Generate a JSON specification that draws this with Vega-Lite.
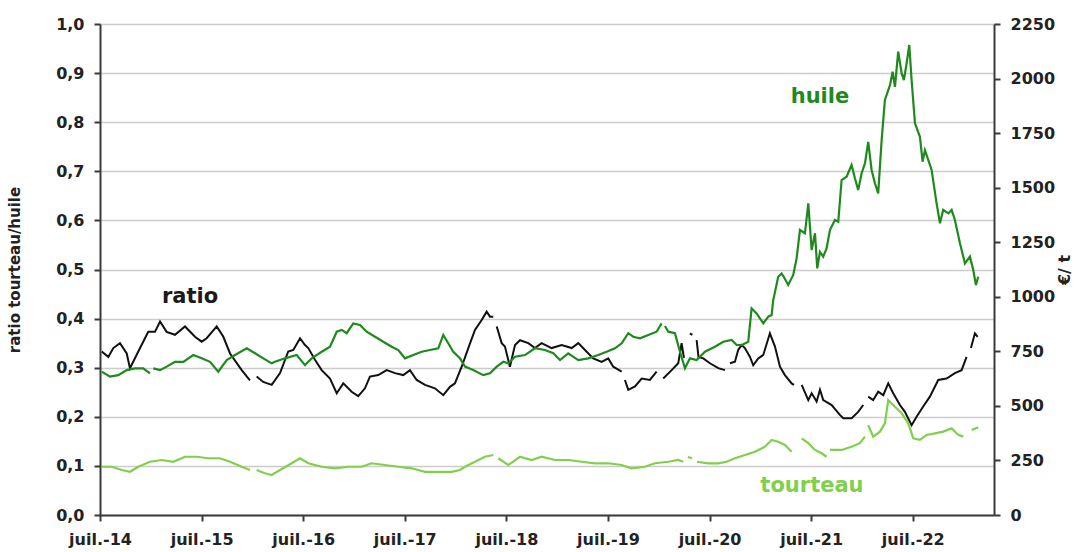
{
  "$schema": "https://vega.github.io/schema/vega-lite/v6.json",
  "width": 894,
  "height": 491,
  "autosize": {"type": "none"},
  "padding": {"left": 100, "top": 24, "right": 88, "bottom": 37},
  "background": "white",
  "config": {
    "view": {"stroke": null},
    "font": "DejaVu Sans",
    "axis": {
      "labelFont": "DejaVu Sans",
      "labelFontSize": 16,
      "labelFontWeight": "bold",
      "labelColor": "#222222",
      "titleFont": "DejaVu Sans",
      "titleFontWeight": "bold",
      "titleColor": "#222222",
      "domainColor": "#3a3a3a",
      "domainWidth": 2,
      "tickColor": "#3a3a3a",
      "tickWidth": 2,
      "tickSize": 6
    }
  },
  "datasets": {
    "ratio": [
      {"t":2014.517,"v":0.333},{"t":2014.582,"v":0.322},{"t":2014.631,"v":0.340},{"t":2014.697,"v":0.350},{"t":2014.763,"v":0.329},{"t":2014.795,"v":0.299},{"t":2014.877,"v":0.333},{"t":2014.975,"v":0.373},{"t":2015.041,"v":0.373},{"t":2015.091,"v":0.394},{"t":2015.156,"v":0.373},{"t":2015.238,"v":0.367},{"t":2015.337,"v":0.384},{"t":2015.435,"v":0.363},{"t":2015.501,"v":0.353},{"t":2015.550,"v":0.360},{"t":2015.649,"v":0.384},{"t":2015.714,"v":0.363},{"t":2015.780,"v":0.329},{"t":2015.895,"v":0.295},{"t":2015.976,"v":0.274},{"t":2016.000,"v":null},
      {"t":2016.042,"v":0.282},{"t":2016.107,"v":0.271},{"t":2016.190,"v":0.265},{"t":2016.272,"v":0.289},{"t":2016.353,"v":0.333},{"t":2016.403,"v":0.336},{"t":2016.469,"v":0.360},{"t":2016.518,"v":0.346},{"t":2016.550,"v":0.340},{"t":2016.616,"v":0.316},{"t":2016.682,"v":0.295},{"t":2016.764,"v":0.278},{"t":2016.830,"v":0.248},{"t":2016.895,"v":0.268},{"t":2016.977,"v":0.251},{"t":2017.042,"v":0.242},{"t":2017.108,"v":0.258},{"t":2017.157,"v":0.282},{"t":2017.239,"v":0.285},{"t":2017.322,"v":0.295},{"t":2017.404,"v":0.289},{"t":2017.485,"v":0.285},{"t":2017.551,"v":0.295},{"t":2017.617,"v":0.275},{"t":2017.699,"v":0.265},{"t":2017.797,"v":0.258},{"t":2017.879,"v":0.244},{"t":2017.945,"v":0.261},{"t":2017.994,"v":0.268},{"t":2018.060,"v":0.302},{"t":2018.143,"v":0.350},{"t":2018.191,"v":0.377},{"t":2018.257,"v":0.397},{"t":2018.306,"v":0.414},{"t":2018.339,"v":0.404},{"t":2018.371,"v":0.404},{"t":2018.388,"v":null},
      {"t":2018.405,"v":0.384},{"t":2018.454,"v":0.350},{"t":2018.486,"v":0.343},{"t":2018.535,"v":0.302},{"t":2018.585,"v":0.346},{"t":2018.634,"v":0.356},{"t":2018.716,"v":0.350},{"t":2018.781,"v":0.340},{"t":2018.847,"v":0.350},{"t":2018.946,"v":0.340},{"t":2019.044,"v":0.346},{"t":2019.143,"v":0.340},{"t":2019.208,"v":0.350},{"t":2019.274,"v":0.336},{"t":2019.355,"v":0.319},{"t":2019.438,"v":0.312},{"t":2019.503,"v":0.319},{"t":2019.552,"v":0.302},{"t":2019.635,"v":0.292},{"t":2019.651,"v":null},
      {"t":2019.667,"v":0.275},{"t":2019.700,"v":0.255},{"t":2019.766,"v":0.262},{"t":2019.832,"v":0.278},{"t":2019.913,"v":0.275},{"t":2019.979,"v":0.292},{"t":2019.995,"v":null},
      {"t":2020.044,"v":0.278},{"t":2020.127,"v":0.295},{"t":2020.192,"v":0.309},{"t":2020.225,"v":0.350},{"t":2020.248,"v":0.320},{"t":2020.265,"v":null},
      {"t":2020.307,"v":0.370},{"t":2020.331,"v":0.367},{"t":2020.350,"v":null},
      {"t":2020.373,"v":0.356},{"t":2020.391,"v":0.322},{"t":2020.438,"v":0.319},{"t":2020.504,"v":0.309},{"t":2020.586,"v":0.299},{"t":2020.652,"v":0.295},{"t":2020.668,"v":null},
      {"t":2020.701,"v":0.309},{"t":2020.750,"v":0.312},{"t":2020.782,"v":0.336},{"t":2020.816,"v":0.346},{"t":2020.848,"v":0.340},{"t":2020.898,"v":0.322},{"t":2020.930,"v":0.305},{"t":2020.979,"v":0.319},{"t":2021.029,"v":0.326},{"t":2021.094,"v":0.370},{"t":2021.144,"v":0.343},{"t":2021.193,"v":0.302},{"t":2021.242,"v":0.285},{"t":2021.308,"v":0.268},{"t":2021.331,"v":0.265},{"t":2021.360,"v":null},
      {"t":2021.407,"v":0.265},{"t":2021.472,"v":0.234},{"t":2021.505,"v":0.248},{"t":2021.554,"v":0.231},{"t":2021.587,"v":0.255},{"t":2021.619,"v":0.234},{"t":2021.702,"v":0.224},{"t":2021.783,"v":0.204},{"t":2021.816,"v":0.197},{"t":2021.899,"v":0.197},{"t":2021.963,"v":0.210},{"t":2022.013,"v":0.224},{"t":2022.035,"v":null},
      {"t":2022.062,"v":0.241},{"t":2022.111,"v":0.234},{"t":2022.160,"v":0.251},{"t":2022.210,"v":0.244},{"t":2022.259,"v":0.268},{"t":2022.308,"v":0.248},{"t":2022.374,"v":0.224},{"t":2022.423,"v":0.210},{"t":2022.489,"v":0.183},{"t":2022.538,"v":0.200},{"t":2022.603,"v":0.221},{"t":2022.669,"v":0.241},{"t":2022.751,"v":0.275},{"t":2022.833,"v":0.278},{"t":2022.915,"v":0.289},{"t":2022.981,"v":0.295},{"t":2023.030,"v":0.322},{"t":2023.050,"v":null},
      {"t":2023.073,"v":0.340},{"t":2023.112,"v":0.370},{"t":2023.139,"v":0.363}
    ],
    "prix": [
      {"s":"huile","t":2014.517,"v":657},{"s":"huile","t":2014.598,"v":634},{"s":"huile","t":2014.680,"v":641},{"s":"huile","t":2014.763,"v":664},{"s":"huile","t":2014.844,"v":672},{"s":"huile","t":2014.926,"v":672},{"s":"huile","t":2014.992,"v":649},{"s":"huile","t":2015.008,"v":null},
      {"s":"huile","t":2015.025,"v":672},{"s":"huile","t":2015.091,"v":664},{"s":"huile","t":2015.156,"v":680},{"s":"huile","t":2015.238,"v":702},{"s":"huile","t":2015.320,"v":702},{"s":"huile","t":2015.418,"v":733},{"s":"huile","t":2015.501,"v":718},{"s":"huile","t":2015.583,"v":702},{"s":"huile","t":2015.664,"v":657},{"s":"huile","t":2015.747,"v":710},{"s":"huile","t":2015.829,"v":733},{"s":"huile","t":2015.944,"v":764},{"s":"huile","t":2016.026,"v":741},{"s":"huile","t":2016.107,"v":718},{"s":"huile","t":2016.190,"v":695},{"s":"huile","t":2016.222,"v":702},{"s":"huile","t":2016.321,"v":718},{"s":"huile","t":2016.436,"v":733},{"s":"huile","t":2016.518,"v":687},{"s":"huile","t":2016.584,"v":718},{"s":"huile","t":2016.682,"v":748},{"s":"huile","t":2016.764,"v":771},{"s":"huile","t":2016.830,"v":840},{"s":"huile","t":2016.879,"v":848},{"s":"huile","t":2016.928,"v":833},{"s":"huile","t":2016.993,"v":878},{"s":"huile","t":2017.059,"v":871},{"s":"huile","t":2017.125,"v":840},{"s":"huile","t":2017.207,"v":817},{"s":"huile","t":2017.288,"v":794},{"s":"huile","t":2017.371,"v":771},{"s":"huile","t":2017.436,"v":756},{"s":"huile","t":2017.502,"v":718},{"s":"huile","t":2017.584,"v":733},{"s":"huile","t":2017.666,"v":748},{"s":"huile","t":2017.748,"v":756},{"s":"huile","t":2017.830,"v":764},{"s":"huile","t":2017.879,"v":825},{"s":"huile","t":2017.928,"v":787},{"s":"huile","t":2017.977,"v":748},{"s":"huile","t":2018.043,"v":718},{"s":"huile","t":2018.093,"v":680},{"s":"huile","t":2018.174,"v":664},{"s":"huile","t":2018.273,"v":641},{"s":"huile","t":2018.339,"v":649},{"s":"huile","t":2018.405,"v":680},{"s":"huile","t":2018.470,"v":702},{"s":"huile","t":2018.519,"v":695},{"s":"huile","t":2018.585,"v":725},{"s":"huile","t":2018.683,"v":733},{"s":"huile","t":2018.781,"v":764},{"s":"huile","t":2018.880,"v":756},{"s":"huile","t":2018.962,"v":741},{"s":"huile","t":2019.028,"v":710},{"s":"huile","t":2019.109,"v":741},{"s":"huile","t":2019.208,"v":710},{"s":"huile","t":2019.306,"v":718},{"s":"huile","t":2019.404,"v":733},{"s":"huile","t":2019.487,"v":748},{"s":"huile","t":2019.569,"v":764},{"s":"huile","t":2019.635,"v":787},{"s":"huile","t":2019.700,"v":833},{"s":"huile","t":2019.749,"v":817},{"s":"huile","t":2019.815,"v":810},{"s":"huile","t":2019.897,"v":825},{"s":"huile","t":2019.979,"v":840},{"s":"huile","t":2020.028,"v":878},{"s":"huile","t":2020.044,"v":null},
      {"s":"huile","t":2020.061,"v":866},{"s":"huile","t":2020.094,"v":840},{"s":"huile","t":2020.159,"v":833},{"s":"huile","t":2020.209,"v":748},{"s":"huile","t":2020.258,"v":672},{"s":"huile","t":2020.307,"v":718},{"s":"huile","t":2020.373,"v":710},{"s":"huile","t":2020.455,"v":748},{"s":"huile","t":2020.553,"v":771},{"s":"huile","t":2020.635,"v":794},{"s":"huile","t":2020.718,"v":802},{"s":"huile","t":2020.767,"v":779},{"s":"huile","t":2020.819,"v":779},{"s":"huile","t":2020.881,"v":794},{"s":"huile","t":2020.914,"v":947},{"s":"huile","t":2020.963,"v":924},{"s":"huile","t":2021.029,"v":878},{"s":"huile","t":2021.078,"v":909},{"s":"huile","t":2021.111,"v":916},{"s":"huile","t":2021.127,"v":985},{"s":"huile","t":2021.176,"v":1092},{"s":"huile","t":2021.209,"v":1107},{"s":"huile","t":2021.237,"v":1086},{"s":"huile","t":2021.274,"v":1054},{"s":"huile","t":2021.324,"v":1100},{"s":"huile","t":2021.357,"v":1176},{"s":"huile","t":2021.390,"v":1306},{"s":"huile","t":2021.439,"v":1291},{"s":"huile","t":2021.472,"v":1428},{"s":"huile","t":2021.505,"v":1214},{"s":"huile","t":2021.538,"v":1291},{"s":"huile","t":2021.560,"v":1130},{"s":"huile","t":2021.587,"v":1206},{"s":"huile","t":2021.619,"v":1184},{"s":"huile","t":2021.652,"v":1222},{"s":"huile","t":2021.685,"v":1306},{"s":"huile","t":2021.734,"v":1352},{"s":"huile","t":2021.767,"v":1344},{"s":"huile","t":2021.800,"v":1535},{"s":"huile","t":2021.849,"v":1550},{"s":"huile","t":2021.898,"v":1604},{"s":"huile","t":2021.931,"v":1543},{"s":"huile","t":2021.963,"v":1489},{"s":"huile","t":2021.997,"v":1566},{"s":"huile","t":2022.030,"v":1612},{"s":"huile","t":2022.062,"v":1710},{"s":"huile","t":2022.095,"v":1581},{"s":"huile","t":2022.128,"v":1520},{"s":"huile","t":2022.160,"v":1474},{"s":"huile","t":2022.194,"v":1718},{"s":"huile","t":2022.226,"v":1902},{"s":"huile","t":2022.276,"v":1970},{"s":"huile","t":2022.302,"v":2031},{"s":"huile","t":2022.325,"v":1962},{"s":"huile","t":2022.357,"v":2123},{"s":"huile","t":2022.391,"v":2024},{"s":"huile","t":2022.413,"v":1993},{"s":"huile","t":2022.440,"v":2070},{"s":"huile","t":2022.466,"v":2154},{"s":"huile","t":2022.489,"v":1993},{"s":"huile","t":2022.522,"v":1795},{"s":"huile","t":2022.571,"v":1733},{"s":"huile","t":2022.597,"v":1619},{"s":"huile","t":2022.620,"v":1672},{"s":"huile","t":2022.653,"v":1627},{"s":"huile","t":2022.686,"v":1581},{"s":"huile","t":2022.735,"v":1428},{"s":"huile","t":2022.768,"v":1337},{"s":"huile","t":2022.800,"v":1398},{"s":"huile","t":2022.850,"v":1382},{"s":"huile","t":2022.883,"v":1398},{"s":"huile","t":2022.915,"v":1352},{"s":"huile","t":2022.965,"v":1245},{"s":"huile","t":2023.014,"v":1153},{"s":"huile","t":2023.063,"v":1184},{"s":"huile","t":2023.096,"v":1123},{"s":"huile","t":2023.122,"v":1054},{"s":"huile","t":2023.145,"v":1092},
      {"s":"tourteau","t":2014.517,"v":221},{"s":"tourteau","t":2014.615,"v":221},{"s":"tourteau","t":2014.714,"v":206},{"s":"tourteau","t":2014.795,"v":198},{"s":"tourteau","t":2014.877,"v":221},{"s":"tourteau","t":2014.992,"v":244},{"s":"tourteau","t":2015.107,"v":252},{"s":"tourteau","t":2015.221,"v":244},{"s":"tourteau","t":2015.337,"v":267},{"s":"tourteau","t":2015.452,"v":267},{"s":"tourteau","t":2015.566,"v":260},{"s":"tourteau","t":2015.681,"v":260},{"s":"tourteau","t":2015.780,"v":244},{"s":"tourteau","t":2015.895,"v":221},{"s":"tourteau","t":2015.976,"v":206},{"s":"tourteau","t":2016.000,"v":null},
      {"s":"tourteau","t":2016.042,"v":206},{"s":"tourteau","t":2016.124,"v":191},{"s":"tourteau","t":2016.190,"v":183},{"s":"tourteau","t":2016.272,"v":206},{"s":"tourteau","t":2016.387,"v":237},{"s":"tourteau","t":2016.469,"v":260},{"s":"tourteau","t":2016.550,"v":237},{"s":"tourteau","t":2016.682,"v":221},{"s":"tourteau","t":2016.813,"v":214},{"s":"tourteau","t":2016.944,"v":221},{"s":"tourteau","t":2017.076,"v":221},{"s":"tourteau","t":2017.174,"v":237},{"s":"tourteau","t":2017.305,"v":229},{"s":"tourteau","t":2017.436,"v":221},{"s":"tourteau","t":2017.568,"v":214},{"s":"tourteau","t":2017.699,"v":198},{"s":"tourteau","t":2017.830,"v":198},{"s":"tourteau","t":2017.962,"v":198},{"s":"tourteau","t":2018.043,"v":206},{"s":"tourteau","t":2018.093,"v":221},{"s":"tourteau","t":2018.191,"v":244},{"s":"tourteau","t":2018.289,"v":267},{"s":"tourteau","t":2018.371,"v":275},{"s":"tourteau","t":2018.388,"v":null},
      {"s":"tourteau","t":2018.420,"v":260},{"s":"tourteau","t":2018.519,"v":229},{"s":"tourteau","t":2018.634,"v":267},{"s":"tourteau","t":2018.749,"v":252},{"s":"tourteau","t":2018.847,"v":267},{"s":"tourteau","t":2018.978,"v":252},{"s":"tourteau","t":2019.109,"v":252},{"s":"tourteau","t":2019.241,"v":244},{"s":"tourteau","t":2019.372,"v":237},{"s":"tourteau","t":2019.503,"v":237},{"s":"tourteau","t":2019.635,"v":229},{"s":"tourteau","t":2019.733,"v":214},{"s":"tourteau","t":2019.864,"v":221},{"s":"tourteau","t":2019.963,"v":237},{"s":"tourteau","t":2020.094,"v":244},{"s":"tourteau","t":2020.192,"v":252},{"s":"tourteau","t":2020.241,"v":244},{"s":"tourteau","t":2020.258,"v":null},
      {"s":"tourteau","t":2020.287,"v":266},{"s":"tourteau","t":2020.327,"v":260},{"s":"tourteau","t":2020.345,"v":null},
      {"s":"tourteau","t":2020.376,"v":244},{"s":"tourteau","t":2020.487,"v":237},{"s":"tourteau","t":2020.586,"v":237},{"s":"tourteau","t":2020.668,"v":244},{"s":"tourteau","t":2020.750,"v":260},{"s":"tourteau","t":2020.848,"v":275},{"s":"tourteau","t":2020.947,"v":290},{"s":"tourteau","t":2021.045,"v":313},{"s":"tourteau","t":2021.111,"v":344},{"s":"tourteau","t":2021.176,"v":336},{"s":"tourteau","t":2021.242,"v":321},{"s":"tourteau","t":2021.308,"v":290},{"s":"tourteau","t":2021.340,"v":null},
      {"s":"tourteau","t":2021.407,"v":351},{"s":"tourteau","t":2021.472,"v":329},{"s":"tourteau","t":2021.538,"v":298},{"s":"tourteau","t":2021.603,"v":283},{"s":"tourteau","t":2021.652,"v":267},{"s":"tourteau","t":2021.668,"v":null},
      {"s":"tourteau","t":2021.685,"v":298},{"s":"tourteau","t":2021.800,"v":298},{"s":"tourteau","t":2021.898,"v":313},{"s":"tourteau","t":2021.980,"v":329},{"s":"tourteau","t":2022.030,"v":359},{"s":"tourteau","t":2022.046,"v":null},
      {"s":"tourteau","t":2022.062,"v":412},{"s":"tourteau","t":2022.111,"v":359},{"s":"tourteau","t":2022.177,"v":382},{"s":"tourteau","t":2022.226,"v":420},{"s":"tourteau","t":2022.259,"v":527},{"s":"tourteau","t":2022.325,"v":496},{"s":"tourteau","t":2022.391,"v":466},{"s":"tourteau","t":2022.456,"v":420},{"s":"tourteau","t":2022.505,"v":351},{"s":"tourteau","t":2022.571,"v":344},{"s":"tourteau","t":2022.637,"v":367},{"s":"tourteau","t":2022.719,"v":374},{"s":"tourteau","t":2022.800,"v":382},{"s":"tourteau","t":2022.883,"v":397},{"s":"tourteau","t":2022.948,"v":367},{"s":"tourteau","t":2022.998,"v":359},{"s":"tourteau","t":2023.020,"v":null},
      {"s":"tourteau","t":2023.080,"v":389},{"s":"tourteau","t":2023.145,"v":402}
    ],
    "etiquette_ratio": [
      {"t":2015.386,"v":0.444,"label":"ratio"}
    ],
    "etiquettes_prix": [
      {"t":2021.587,"v":1915,"s":"huile","label":"huile"},
      {"t":2021.508,"v":133,"s":"tourteau","label":"tourteau"}
    ]
  },
  "layer": [
    {
      "layer": [
        {
          "data": {"name": "ratio"},
          "mark": {"type": "line", "color": "#111111", "strokeWidth": 2},
          "encoding": {
            "x": {
              "field": "t", "type": "quantitative",
              "scale": {"domain": [2014.5, 2023.3], "nice": false, "zero": false},
              "axis": {
                "title": null, "grid": false,
                "values": [2014.5, 2015.5, 2016.5, 2017.5, 2018.5, 2019.5, 2020.5, 2021.5, 2022.5],
                "labelExpr": "'juil.-' + (floor(datum.value) - 2000)",
                "labelPadding": 10,
                "labelFlush": false
              }
            },
            "y": {
              "field": "v", "type": "quantitative",
              "scale": {"domain": [0, 1], "nice": false},
              "axis": {
                "orient": "left",
                "title": "ratio tourteau/huile",
                "titleFontSize": 15,
                "titlePadding": 33,
                "values": [0, 0.1, 0.2, 0.3, 0.4, 0.5, 0.6, 0.7, 0.8, 0.9, 1.0],
                "labelExpr": "replace(format(datum.value, '.1f'), '.', ',')",
                "labelPadding": 10,
                "grid": true,
                "gridColor": "#cccccc",
                "gridWidth": 1.5
              }
            }
          }
        },
        {
          "data": {"name": "etiquette_ratio"},
          "mark": {"type": "text", "font": "DejaVu Sans", "fontSize": 21, "fontWeight": "bold", "color": "#1a1a1a"},
          "encoding": {
            "x": {"field": "t", "type": "quantitative"},
            "y": {"field": "v", "type": "quantitative"},
            "text": {"field": "label"}
          }
        }
      ]
    },
    {
      "layer": [
        {
          "data": {"name": "prix"},
          "mark": {"type": "line", "strokeWidth": 2.2},
          "encoding": {
            "x": {"field": "t", "type": "quantitative"},
            "y": {
              "field": "v", "type": "quantitative",
              "scale": {"domain": [0, 2250], "nice": false},
              "axis": {
                "orient": "right",
                "title": "€/ t",
                "titleFontSize": 16,
                "titleAngle": -90,
                "titlePadding": 18,
                "values": [0, 250, 500, 750, 1000, 1250, 1500, 1750, 2000, 2250],
                "format": "d",
                "labelPadding": 10,
                "grid": false
              }
            },
            "color": {
              "field": "s", "type": "nominal",
              "scale": {"domain": ["huile", "tourteau"], "range": ["#1e8a1e", "#80d04c"]},
              "legend": null
            }
          }
        },
        {
          "data": {"name": "etiquettes_prix"},
          "mark": {"type": "text", "font": "DejaVu Sans", "fontSize": 21, "fontWeight": "bold"},
          "encoding": {
            "x": {"field": "t", "type": "quantitative"},
            "y": {"field": "v", "type": "quantitative"},
            "text": {"field": "label"},
            "color": {"field": "s", "type": "nominal", "legend": null}
          }
        }
      ]
    }
  ],
  "resolve": {"scale": {"y": "independent"}, "axis": {"y": "independent"}}
}
